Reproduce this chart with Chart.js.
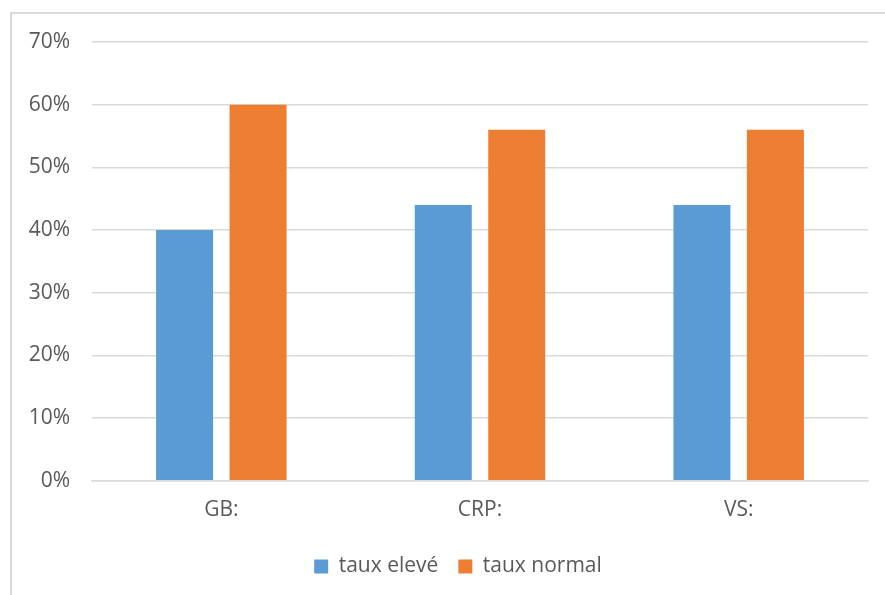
<!DOCTYPE html>
<html>
<head>
<meta charset="utf-8">
<script src="https://cdn.jsdelivr.net/npm/chart.js@4"></script>
<style>
  html, body { margin: 0; padding: 0; background: #ffffff; }
  #wrap { position: relative; width: 885px; height: 595px; overflow: hidden; }
  #frame { position: absolute; left: 10px; top: 12px; width: 1000px; height: 1000px;
           border-left: 2px solid #d9d9d9; border-top: 2px solid #d9d9d9; box-sizing: border-box; }
  canvas { position: absolute; left: 0; top: 0; }
</style>
</head>
<body>
<div id="wrap">
  <div id="frame"></div>
  <canvas id="c" width="885" height="595"></canvas>
</div>
<script>
// Markers and their shares of patients (percent)
const categories = ['GB:', 'CRP:', 'VS:'];
const tauxEleve = [40, 44, 44];
const tauxNormal = [60, 56, 56];
const seriesNames = ['taux elevé', 'taux normal'];
const yMax = 70;
const yStep = 10;

const FONT = '"Open Sans", "DejaVu Sans", sans-serif';

// Nudge the legend so it sits under the middle of the plot, a little higher
const legendShift = {
  id: 'legendShift',
  afterLayout(chart) {
    const lg = chart.legend;
    if (lg) { lg.left += 24; lg.right += 24; lg.top -= 4; lg.bottom -= 4; }
  }
};

new Chart(document.getElementById('c'), {
  type: 'bar',
  data: {
    labels: categories,
    datasets: [
      { label: seriesNames[0], data: tauxEleve, backgroundColor: '#5B9BD5',
        categoryPercentage: 0.568, barPercentage: 0.776 },
      { label: seriesNames[1], data: tauxNormal, backgroundColor: '#ED7D31',
        categoryPercentage: 0.568, barPercentage: 0.776 }
    ]
  },
  plugins: [legendShift],
  options: {
    responsive: false,
    animation: false,
    devicePixelRatio: 1,
    layout: { padding: { left: 0, right: 17, top: 42, bottom: 4 } },
    plugins: {
      tooltip: { enabled: false },
      legend: {
        position: 'bottom',
        labels: {
          boxWidth: 14, boxHeight: 14, padding: 20,
          color: '#595959',
          font: { family: FONT, size: 21 }
        }
      }
    },
    scales: {
      x: {
        grid: { display: false, drawTicks: false },
        border: { display: true, color: '#d9d9d9', width: 1.5 },
        ticks: { color: '#595959', padding: 17, font: { family: FONT, size: 21 } }
      },
      y: {
        min: 0, max: yMax,
        afterFit: (s) => { s.width = 92; },
        grid: { color: '#d9d9d9', lineWidth: 1.5, drawTicks: false },
        border: { display: false },
        ticks: {
          stepSize: yStep, padding: 22, color: '#595959',
          font: { family: FONT, size: 21 },
          callback: (v) => v + '%'
        }
      }
    }
  }
});
</script>
</body>
</html>
